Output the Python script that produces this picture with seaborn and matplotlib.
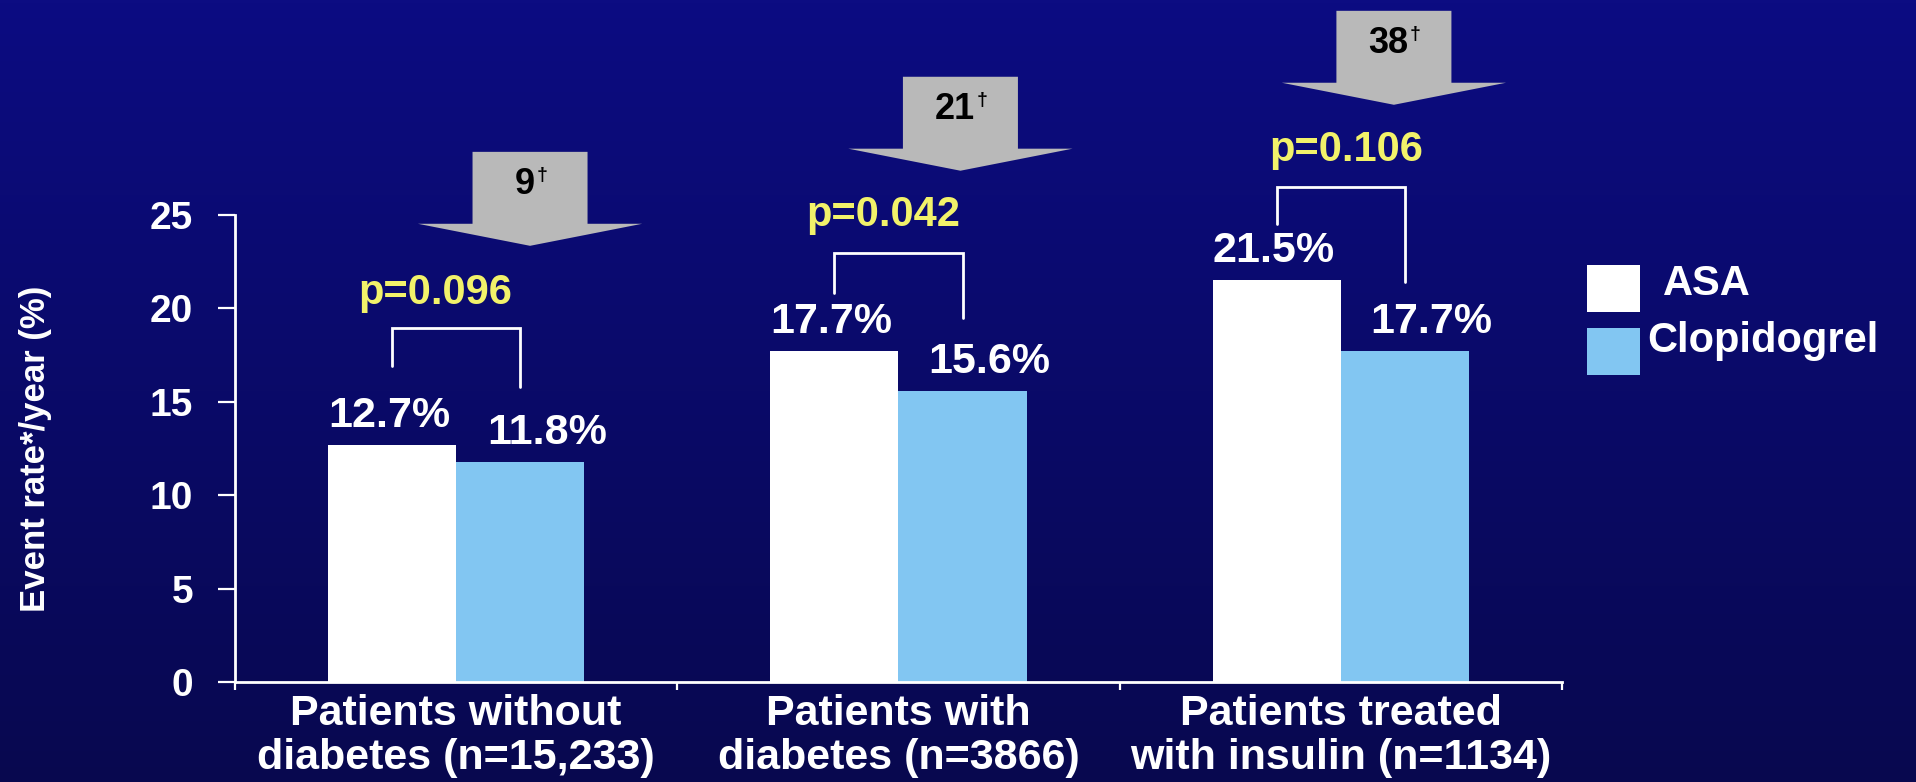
import numpy as np
import pandas as pd
import matplotlib
matplotlib.use("Agg")
import matplotlib.pyplot as plt
from matplotlib.patches import FancyArrow, Rectangle
from matplotlib.colors import LinearSegmentedColormap
from matplotlib.ticker import FixedLocator, NullFormatter
import seaborn as sns

# ---- data -------------------------------------------------------------
groups = [
    "Patients without\ndiabetes (n=15,233)",
    "Patients with\ndiabetes (n=3866)",
    "Patients treated\nwith insulin (n=1134)",
]
treatments = ["ASA", "Clopidogrel"]
asa_rate = [12.7, 17.7, 21.5]
clopidogrel_rate = [11.8, 15.6, 17.7]
p_values = ["p=0.096", "p=0.042", "p=0.106"]
events_prevented = ["9", "21", "38"]
y_ticks = [0, 5, 10, 15, 20, 25]

# ---- styling ----------------------------------------------------------
ASA_COLOR = "#ffffff"
CLOP_COLOR = "#82c6f2"
P_COLOR = "#f2f26a"
ARROW_COLOR = "#b9b9b9"
BG_TOP = "#0c0c82"
BG_BOTTOM = "#08084f"

# annotation layout per group (data units)
bracket_legs = [(16.9, 15.8), (20.8, 19.5), (24.5, 21.4)]
bracket_top = [18.95, 22.97, 26.5]
p_offset = [(-0.047, 1.85), (-0.034, 2.03), (0.013, 2.0)]
arrow_dx = [0.167, 0.14, 0.12]

sns.set_theme(style="white")
plt.rcParams["font.family"] = ["Liberation Sans", "DejaVu Sans"]
plt.rcParams["font.weight"] = "bold"
plt.rcParams["axes.labelweight"] = "bold"

df = pd.DataFrame({
    "group": groups * 2,
    "treatment": [treatments[0]] * 3 + [treatments[1]] * 3,
    "rate": asa_rate + clopidogrel_rate,
})

fig = plt.figure(figsize=(19.16, 7.82), dpi=100)

# background gradient
bg = fig.add_axes([0, 0, 1, 1], zorder=0)
grad = np.linspace(1, 0, 256).reshape(-1, 1)
cmap = LinearSegmentedColormap.from_list("bg", [BG_BOTTOM, BG_TOP])
bg.imshow(grad, aspect="auto", cmap=cmap, extent=[0, 1, 0, 1], origin="upper")
bg.set_axis_off()

ax = fig.add_axes([0.12265, 0.12788, 0.69259, 0.59719], zorder=1)
ax.patch.set_alpha(0)

sns.barplot(
    data=df, x="group", y="rate", hue="treatment", order=groups,
    hue_order=treatments, palette=[ASA_COLOR, CLOP_COLOR], saturation=1,
    width=0.58, dodge=True, legend=False, linewidth=0, ax=ax,
)

ax.set_xlim(-0.5, 2.5)
ax.set_ylim(0, 25)
ax.set_yticks(y_ticks)

# axes and ticks
sns.despine(ax=ax)
for side in ("left", "bottom"):
    ax.spines[side].set_color("white")
    ax.spines[side].set_linewidth(2.0)

ax.tick_params(axis="y", colors="white", length=12, width=1.6, pad=18,
               labelsize=28, direction="out", left=True)
ax.xaxis.set_major_locator(FixedLocator([-0.5, 0.5, 1.5, 2.5]))
ax.xaxis.set_major_formatter(NullFormatter())
ax.xaxis.set_minor_locator(FixedLocator([0, 1, 2]))
ax.set_xticklabels(groups, minor=True, fontsize=31, color="white",
                   fontweight="bold", linespacing=1.1)
ax.tick_params(axis="x", which="major", colors="white", length=6, width=1.6,
               direction="out", bottom=True)
ax.tick_params(axis="x", which="minor", length=0, pad=9, colors="white")
ax.set_xlabel("")

ax.set_ylabel("Event rate*/year (%)", color="white", fontsize=25,
              fontweight="bold", va="center")
ax.yaxis.set_label_coords(-0.15, 0.5)

# value labels above bars
label_sets = [asa_rate, clopidogrel_rate]
label_dx = [-2, 19]
for container, values, dx in zip(ax.containers, label_sets, label_dx):
    for rect, v in zip(container, values):
        xc = rect.get_x() + rect.get_width() / 2
        ax.annotate(f"{v:.1f}%", xy=(xc, rect.get_height()),
                    xytext=(dx, 13), textcoords="offset points",
                    ha="center", va="baseline", color="white",
                    fontsize=31, fontweight="bold", annotation_clip=False)

# significance brackets, p-values and arrows
asa_bars = list(ax.containers[0])
clop_bars = list(ax.containers[1])
for i in range(len(groups)):
    xl = asa_bars[i].get_x() + asa_bars[i].get_width() / 2
    xr = clop_bars[i].get_x() + clop_bars[i].get_width() / 2
    yl, yr = bracket_legs[i]
    top = bracket_top[i]
    ax.plot([xl, xl, xr, xr], [yl, top, top, yr], color="white", lw=2.0,
            solid_joinstyle="miter", clip_on=False)

    px, py = p_offset[i]
    ax.text(i + px, top + py, p_values[i], ha="center", va="center",
            color=P_COLOR, fontsize=30, fontweight="bold", clip_on=False)

    tip = top + 4.4
    head_len = 1.18
    body_len = 3.85
    ax_x = i + arrow_dx[i]
    arrow = FancyArrow(ax_x, tip + head_len + body_len, 0,
                       -(head_len + body_len), width=0.26, head_width=0.507,
                       head_length=head_len, length_includes_head=True,
                       color=ARROW_COLOR, linewidth=0, clip_on=False)
    ax.add_patch(arrow)
    num = ax.text(ax_x - 0.012, tip + head_len + body_len - 1.75,
                  events_prevented[i], ha="center", va="center",
                  color="black", fontsize=26, fontweight="bold",
                  clip_on=False)
    ax.annotate("\u2020", xy=(1.0, 1.0), xycoords=num, xytext=(1, 0),
                textcoords="offset points", ha="left", va="top",
                color="black", fontsize=14, fontweight="bold",
                annotation_clip=False)

# legend
W, H = 1916.0, 782.0
for (y0, y1), color in zip([(265, 312), (328, 375)], [ASA_COLOR, CLOP_COLOR]):
    fig.add_artist(Rectangle((1587 / W, 1 - y1 / H), 53 / W, (y1 - y0) / H,
                             transform=fig.transFigure, facecolor=color,
                             edgecolor="none", zorder=3))
fig.text(1663 / W, 1 - 295 / H, treatments[0], color="white", fontsize=30,
         fontweight="bold", ha="left", va="baseline", zorder=3)
fig.text(1647 / W, 1 - 352 / H, treatments[1], color="white", fontsize=30,
         fontweight="bold", ha="left", va="baseline", zorder=3)

fig.savefig("out.png", dpi=100)
